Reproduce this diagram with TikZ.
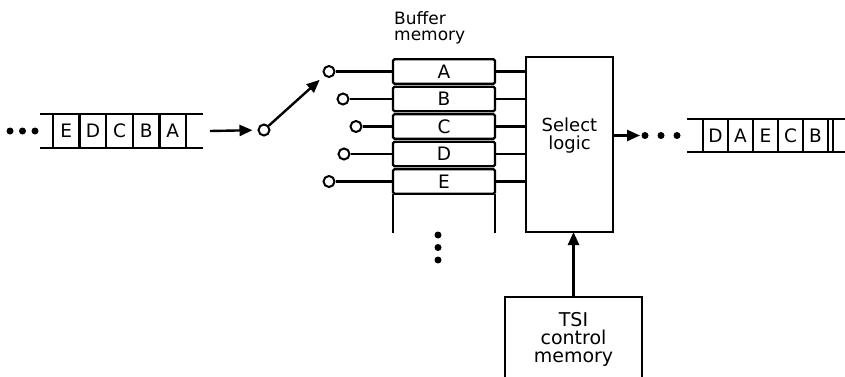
\documentclass[tikz,border=0pt]{standalone}
\usepackage{fontspec}
\setmainfont{DejaVu Sans}
\usetikzlibrary{arrows.meta, positioning, calc}
\tikzset{
  cell/.style   ={draw, minimum width=26.6pt, minimum height=34pt, outer sep=0pt,
                  inner sep=0pt, font=\fontsize{18.5}{20}\selectfont},
  ocell/.style  ={cell, minimum width=25pt, minimum height=33pt},
  row/.style    ={draw, rounded corners=1.5pt, minimum width=102pt, minimum height=24.5pt,
                  outer sep=0pt, inner sep=0pt, font=\fontsize{18.5}{20}\selectfont},
  blk/.style    ={draw, align=center, outer sep=0pt, inner sep=0pt},
  contact/.style={draw, circle, fill=white, minimum size=11pt, inner sep=0pt, line width=2pt},
  arr/.style    ={-{Triangle[length=13pt, width=11pt]}},
  lbl/.style    ={align=left, inner sep=0pt, font=\fontsize{17}{16}\selectfont},
  txt/.style    ={align=center, inner sep=0pt, font=\fontsize{18}{17.5}\selectfont},
}

\begin{document}
\begin{tikzpicture}[x=1pt, y=-1pt, line width=2.4pt, node distance=0pt]
  \useasboundingbox (0,0) rectangle (845,377);

  \node[cell] (i1) at (66.3,131) {E};
  \node[cell, right=of i1] (i2) {D};
  \node[cell, right=of i2] (i3) {C};
  \node[cell, right=of i3] (i4) {B};
  \node[cell, right=of i4] (i5) {A};
  \draw ([xshift=-13pt]i1.north west) -- ([xshift=17pt]i5.north east);
  \draw ([xshift=-13pt]i1.south west) -- ([xshift=17pt]i5.south east);
  \foreach \x in {10,22.5,35} \fill (\x,131) circle (3.5pt);

  \node[contact] (pivot) at (264,130) {};
  \coordinate (istart) at ([xshift=24pt]i5.east);
  \draw[arr, shorten >=5pt] (istart) -- (pivot);

  \node[row] (rA) at (444,71.5) {A};
  \node[row, below=3pt of rA] (rB) {B};
  \node[row, below=3pt of rB] (rC) {C};
  \node[row, below=3pt of rC] (rD) {D};
  \node[row, below=3pt of rD] (rE) {E};
  \draw (rE.south west) -- ++(0,39);
  \draw (rE.south east) -- ++(0,39);
  \foreach \y in {235,247.5,260} \fill (438,\y) circle (3.5pt);
  \node[lbl, anchor=south west] (buf) at ([yshift=14pt]rA.north west) {Buffer\\memory};

  \node[contact] (cA) at (329,71.5) {};
  \node[contact] (cB) at (343,99) {};
  \node[contact] (cC) at (356,126.5) {};
  \node[contact] (cD) at (344,154) {};
  \node[contact] (cE) at (329,181.5) {};
  \foreach \k in {A,...,E} \draw (c\k) -- (r\k.west);
  \draw[arr, shorten >=6pt] (pivot) -- (cA);

  \node[blk, minimum width=87pt, minimum height=175pt] (sel) at (569.5,144.5) {};
  \node[txt] (seltxt) at ([yshift=9pt]sel.center) {Select\\logic};
  \foreach \k in {A,...,E} \draw (r\k.east) -- (r\k.east -| sel.west);

  \node[blk, minimum width=137pt, minimum height=84pt,
        font=\fontsize{19}{18}\selectfont] (tsi) at (573.5,339) {TSI\\control\\memory};
  \draw[arr] (tsi.north) -- (tsi.north |- sel.south);

  \node[ocell] (o1) at (715.5,135.5) {D};
  \node[ocell, right=of o1] (o2) {A};
  \node[ocell, right=of o2] (o3) {E};
  \node[ocell, right=of o3] (o4) {C};
  \node[ocell, right=of o4] (o5) {B};
  \draw ([xshift=-16pt]o1.north west) -- ([xshift=20pt]o5.north east);
  \draw ([xshift=-16pt]o1.south west) -- ([xshift=20pt]o5.south east);
  \draw ([xshift=5pt]o5.north east) -- ([xshift=5pt]o5.south east);
  \coordinate (oend) at ([xshift=-63pt]o1.west);
  \draw[arr] (sel.east |- oend) -- (oend);
  \foreach \x in {645,661,677} \fill (\x,135.5) circle (3.5pt);
\end{tikzpicture}
\end{document}
